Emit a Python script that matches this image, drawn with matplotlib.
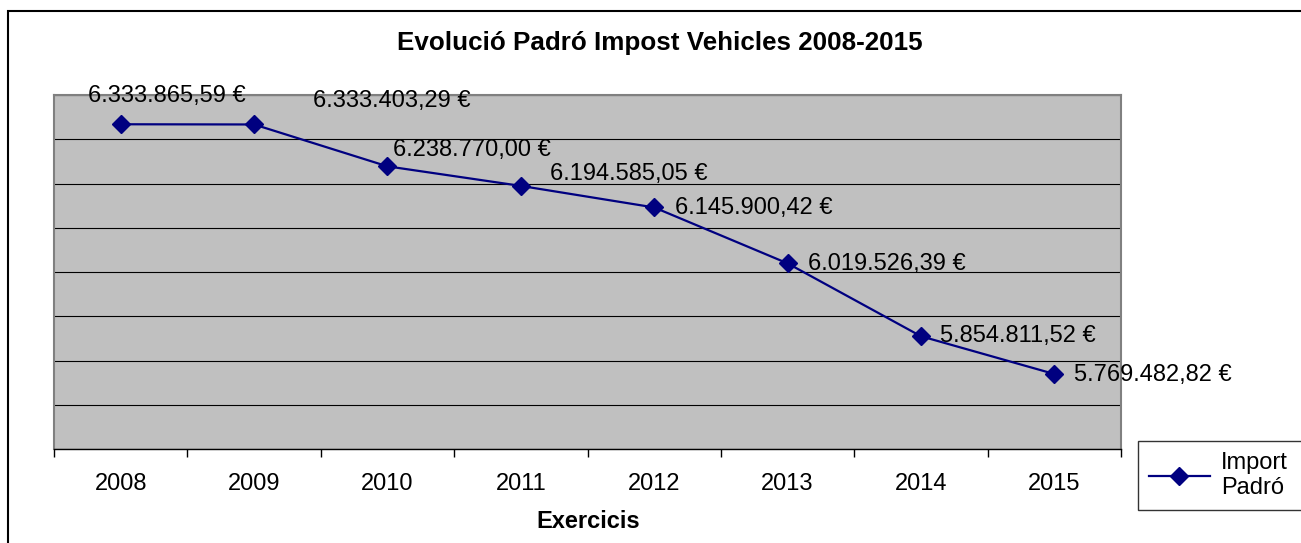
import matplotlib.pyplot as plt
from matplotlib.patches import Rectangle
from matplotlib.lines import Line2D

years = ['2008', '2009', '2010', '2011', '2012', '2013', '2014', '2015']
import_padro = [6333865.59, 6333403.29, 6238770.00, 6194585.05,
                6145900.42, 6019526.39, 5854811.52, 5769482.82]

# desplaçament de les etiquetes respecte al punt (píxels)
label_dx = [-33, 59, 6, 29, 21, 20, 19, 20]
label_dy = [28, 23, 16, 12, -1, -1, 0, -1]


def fmt_euro(v):
    s = f'{v:,.2f}'
    s = s.replace(',', 'X').replace('.', ',').replace('X', '.')
    return s + ' €'


plt.rcParams['font.family'] = ['Liberation Sans', 'DejaVu Sans']

W, H = 1301, 543
fig = plt.figure(figsize=(W / 100, H / 100), dpi=100)
ax = fig.add_axes([54 / W, 1 - 449 / H, (1121 - 54) / W, (449 - 95) / H])

# marc exterior del gràfic
fig.patches.append(Rectangle((8 / W, -0.1), 1.2, 1 - 11 / H + 0.1,
                             transform=fig.transFigure, fill=False,
                             edgecolor='black', linewidth=1.5))

ax.set_facecolor('#C0C0C0')
x = list(range(len(years)))
ax.plot(x, import_padro, color='#000080', linewidth=1.6, marker='D',
        markersize=9.5, markerfacecolor='#000080', markeredgecolor='#000080',
        zorder=3)

for i, v in enumerate(import_padro):
    ax.annotate(fmt_euro(v), (x[i], v),
                xytext=(label_dx[i] * 0.72, label_dy[i] * 0.72),
                textcoords='offset points', ha='left', va='center',
                fontsize=17, color='black', zorder=4, annotation_clip=False)

ax.set_xlim(-0.5, len(years) - 0.5)
ax.set_ylim(5600000, 6400000)
ax.set_yticks(range(5600000, 6400001, 100000))
ax.yaxis.grid(True, color='black', linewidth=0.8)
ax.set_axisbelow(True)
ax.tick_params(axis='y', left=False, labelleft=False)

ax.set_xticks(x)
ax.set_xticklabels(years, fontsize=17)
ax.set_xticks([i - 0.5 for i in range(len(years) + 1)], minor=True)
ax.tick_params(axis='x', which='major', length=0, pad=17)
ax.tick_params(axis='x', which='minor', length=6, width=1, direction='out',
               color='black')

for side in ['top', 'left', 'right']:
    ax.spines[side].set_color('#808080')
    ax.spines[side].set_linewidth(1.5)
ax.spines['bottom'].set_color('black')
ax.spines['bottom'].set_linewidth(1)

fig.text(660 / W, 1 - 43 / H, 'Evolució Padró Impost Vehicles 2008-2015',
         ha='center', va='center', fontsize=18.7, fontweight='bold')
fig.text(588 / W, 1 - 521 / H, 'Exercicis', ha='center', va='center',
         fontsize=17, fontweight='bold')

handle = Line2D([], [], color='#000080', linewidth=1.6, marker='D',
                markersize=9.5)
leg = fig.legend([handle], ['Import\nPadró'], loc='upper left',
                 bbox_to_anchor=(1138 / W, 1 - 511 / H, 200 / W, 70 / H),
                 mode='expand', fontsize=17,
                 frameon=True, fancybox=False, edgecolor='black',
                 handlelength=2.6, borderpad=0.45, handletextpad=0.45,
                 borderaxespad=0)
leg.get_frame().set_linewidth(1)

fig.savefig('out.png', dpi=100)
